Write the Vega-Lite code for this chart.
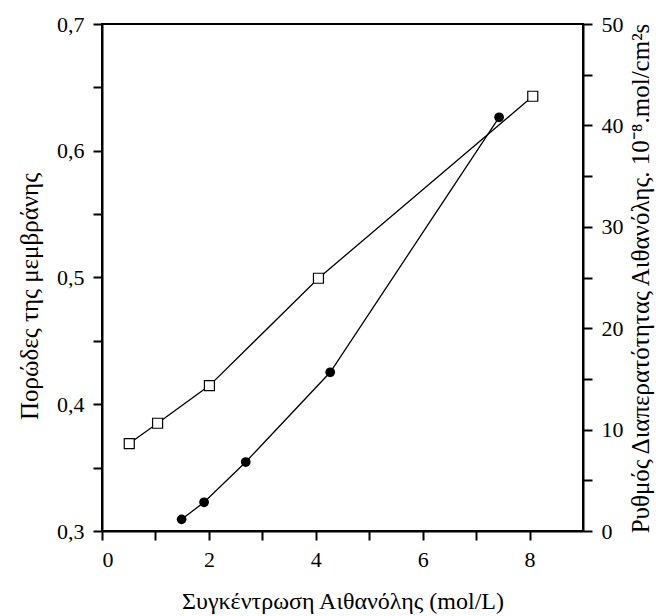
{
  "$schema": "https://vega.github.io/schema/vega-lite/v6.json",
  "width": 481,
  "height": 507,
  "autosize": {"type": "none"},
  "padding": {"left": 102, "top": 24, "right": 73, "bottom": 85},
  "background": "white",
  "config": {
    "view": {"stroke": "black", "strokeWidth": 2},
    "font": "Liberation Serif",
    "axis": {
      "grid": false,
      "domainColor": "black",
      "domainWidth": 2,
      "tickColor": "black",
      "tickWidth": 2,
      "tickSize": 9,
      "labelFont": "Liberation Serif",
      "labelFontSize": 22,
      "labelColor": "black",
      "labelPadding": 9,
      "titleFont": "Liberation Serif",
      "titleFontSize": 25,
      "titleFontWeight": "normal",
      "titleColor": "black"
    }
  },
  "datasets": {
    "por": [
      {"c": 0.51, "p": 0.369},
      {"c": 1.04, "p": 0.385},
      {"c": 2.01, "p": 0.4147},
      {"c": 4.05, "p": 0.4994},
      {"c": 8.06, "p": 0.643}
    ],
    "rate": [
      {"c": 1.49, "r": 1.15},
      {"c": 1.91, "r": 2.83},
      {"c": 2.69, "r": 6.8},
      {"c": 4.27, "r": 15.65},
      {"c": 7.43, "r": 40.8}
    ]
  },
  "layer": [
    {
      "data": {"name": "por"},
      "encoding": {
        "x": {
          "field": "c", "type": "quantitative",
          "scale": {"domain": [0, 9], "nice": false, "zero": false},
          "axis": {
            "title": "Συγκέντρωση Αιθανόλης (mol/L)",
            "values": [0, 1, 2, 3, 4, 5, 6, 7, 8],
            "labelExpr": "datum.value % 2 == 0 ? datum.label : ''",
            "titleFontSize": 24,
            "titleY": 70,
            "titleBaseline": "middle"
          }
        },
        "y": {
          "field": "p", "type": "quantitative",
          "scale": {"domain": [0.3, 0.7], "nice": false, "zero": false},
          "axis": {
            "orient": "left",
            "title": "Πορώδες της μεμβράνης",
            "values": [0.3, 0.35, 0.4, 0.45, 0.5, 0.55, 0.6, 0.65, 0.7],
            "labelExpr": "round(datum.value * 100) % 10 == 0 ? replace(format(datum.value, '.1f'), '.', ',') : ''",
            "titleX": -73,
            "titleY": 272,
            "titleAngle": 270,
            "titleAlign": "center",
            "titleBaseline": "middle"
          }
        }
      },
      "layer": [
        {"mark": {"type": "line", "color": "black", "strokeWidth": 1.3}},
        {"mark": {"type": "point", "shape": "square", "size": 100, "filled": true, "fill": "white", "stroke": "black", "strokeWidth": 1.2, "opacity": 1}}
      ]
    },
    {
      "data": {"name": "rate"},
      "encoding": {
        "x": {
          "field": "c", "type": "quantitative",
          "scale": {"domain": [0, 9], "nice": false, "zero": false},
          "axis": {
            "title": "Συγκέντρωση Αιθανόλης (mol/L)",
            "values": [0, 1, 2, 3, 4, 5, 6, 7, 8],
            "labelExpr": "datum.value % 2 == 0 ? datum.label : ''",
            "titleFontSize": 24,
            "titleY": 70,
            "titleBaseline": "middle"
          }
        },
        "y": {
          "field": "r", "type": "quantitative",
          "scale": {"domain": [0, 50], "nice": false, "zero": false},
          "axis": {
            "orient": "right",
            "title": "Ρυθμός Διαπερατότητας Αιθανόλης. 10⁻⁸.mol/cm²s",
            "values": [0, 5, 10, 15, 20, 25, 30, 35, 40, 45, 50],
            "labelExpr": "datum.value % 10 == 0 ? datum.label : ''",
            "titleX": 57,
            "titleY": 254,
            "titleAngle": 270,
            "titleAlign": "center",
            "titleBaseline": "middle"
          }
        }
      },
      "layer": [
        {"mark": {"type": "line", "color": "black", "strokeWidth": 1.3}},
        {"mark": {"type": "point", "shape": "circle", "size": 95, "filled": true, "color": "black", "opacity": 1}}
      ]
    }
  ],
  "resolve": {"scale": {"y": "independent"}, "axis": {"y": "independent"}}
}
